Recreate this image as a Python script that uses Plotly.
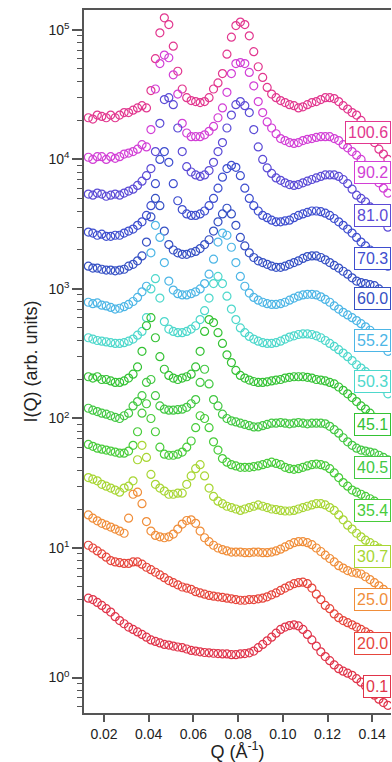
import plotly.graph_objects as go

# Q grid (A^-1)
q = [0.013, 0.015, 0.017, 0.019, 0.021, 0.023, 0.025, 0.027, 0.029, 0.031,
     0.033, 0.035, 0.037, 0.039, 0.041, 0.043, 0.045, 0.047, 0.049, 0.051,
     0.053, 0.055, 0.057, 0.059, 0.061, 0.063, 0.065, 0.067, 0.069, 0.071,
     0.073, 0.075, 0.077, 0.079, 0.081, 0.083, 0.085, 0.087, 0.089, 0.091,
     0.093, 0.095, 0.097, 0.099, 0.101, 0.103, 0.105, 0.107, 0.109, 0.111,
     0.113, 0.115, 0.117, 0.119, 0.121, 0.123, 0.125, 0.127, 0.129, 0.131,
     0.133, 0.135, 0.137, 0.139, 0.141, 0.143, 0.145, 0.147]

labels = ["100.6", "90.2", "81.0", "70.3", "60.0", "55.2", "50.3",
          "45.1", "40.5", "35.4", "30.7", "25.0", "20.0", "0.1"]

i_100_6 = [21000, 20500, 22000, 21500, 21000, 22000, 21000, 22000, 23000, 23000,
           24000, 25000, 26000, 25000, 34000, 60000, 95000, 124000, 110000, 75000,
           48000, 35000, 30000, 28500, 28000, 27500, 28000, 30000, 35000, 39000,
           46000, 65000, 88000, 108000, 115000, 110000, 90000, 68000, 52000, 43000,
           36000, 32000, 30000, 28500, 27500, 26500, 26000, 25000, 25500, 26500,
           27500, 28000, 29000, 30000, 30000, 29500, 28000, 26000, 24500, 23000,
           22000, 20000, 18000, 15500, 13500, 12000, 11000, 10000]
i_90_2 = [10400, 10000, 10500, 10500, 10000, 10500, 10200, 10500, 11000, 11200,
          11500, 12000, 13000, 12500, 17000, 35000, 55000, 64000, 61000, 45000,
          32000, 19000, 16000, 15000, 15000, 15000, 15500, 16500, 18000, 21000,
          25000, 33000, 46000, 55000, 56000, 55000, 47000, 37000, 28000, 23000,
          19500, 17500, 15800, 14500, 14000, 13500, 13300, 13500, 14000, 14300,
          14500, 14800, 15000, 15000, 15000, 14500, 14000, 13000, 12300, 11500,
          10800, 10000, 9000, 8000, 7200, 6600, 6000, 5500]
i_81_0 = [5400, 5300, 5500, 5400, 5200, 5300, 5400, 5300, 5500, 5700,
          5900, 6300, 6800, 7500, 8500, 11500, 19000, 29000, 30000, 26500,
          17500, 11500, 8800, 8000, 7600, 7400, 7600, 8200, 9500, 11500,
          13500, 17500, 22000, 26500, 28000, 26000, 23000, 17000, 12500, 10000,
          8600, 7800, 7200, 6900, 6600, 6400, 6300, 6400, 6600, 6800,
          7000, 7200, 7400, 7600, 7600, 7600, 7400, 7000, 6500, 5900,
          5300, 5000, 4700, 4300, 3900, 3600, 3300, 3000]
i_70_3 = [2750, 2700, 2600, 2650, 2550, 2550, 2600, 2600, 2700, 2800,
          2900, 3100, 3300, 3700, 4400, 6500, 10000, 11500, 9500, 6500,
          4800, 4100, 3800, 3700, 3700, 3800, 4000, 4400, 5000, 6000,
          7300, 8500, 9000, 8700, 7500, 6000, 5000, 4400, 4000, 3700,
          3550, 3400, 3300, 3300, 3350, 3400, 3550, 3700, 3800, 3900,
          4000, 4000, 3950, 3850, 3700, 3500, 3300, 3100, 2900, 2700,
          2500, 2300, 2150, 2000, 1850, 1700, 1600, 1500]
i_60_0 = [1500, 1450, 1450, 1420, 1400, 1400, 1380, 1400, 1420, 1500,
          1550, 1650, 1800, 2300, 3600, 5000, 4400, 2800, 2200, 2000,
          1900, 1850, 1850, 1900, 1950, 2050, 2200, 2400, 2800, 3300,
          3800, 4200, 3800, 3100, 2500, 2150, 1900, 1750, 1650, 1600,
          1550, 1500, 1470, 1470, 1500, 1550, 1600, 1650, 1720, 1780,
          1800, 1800, 1750, 1680, 1600, 1520, 1450, 1370, 1300, 1220,
          1150, 1120, 1100, 1080, 1060, 1000, 950, 900]
i_55_2 = [790, 770, 780, 750, 740, 720, 700, 710, 730, 760,
          800, 860, 950, 1050, 1900, 3100, 2500, 1600, 1150, 980,
          920, 900, 900, 920, 950, 1000, 1100, 1300, 1700, 2300,
          2700, 2600, 2100, 1600, 1250, 1050, 930, 860, 820, 790,
          770, 760, 760, 770, 790, 820, 850, 880, 900, 910,
          910, 900, 870, 830, 790, 740, 700, 660, 630, 600,
          570, 540, 510, 480, 450, 410, 370, 330]
i_50_3 = [420, 410, 400, 395, 390, 385, 380, 380, 385, 395,
          410, 440, 470, 600, 1000, 1200, 850, 560, 490, 470,
          460, 460, 470, 490, 520, 580, 680, 850, 1100, 1250,
          1100, 880, 700, 580, 500, 460, 430, 410, 395, 385,
          380, 380, 385, 395, 410, 425, 435, 445, 450, 450,
          445, 435, 420, 400, 380, 360, 340, 320, 300, 280,
          260, 245, 230, 215, 200, 185, 170, 155]
i_45_1 = [210, 205, 210, 200, 200, 195, 190, 190, 195, 205,
          220, 250, 330, 520, 600, 420, 300, 240, 215, 205,
          200, 205, 210, 220, 250, 330, 470, 580, 550, 460,
          380, 310, 270, 235, 215, 205, 198, 193, 190, 190,
          192, 195, 198, 200, 205, 208, 210, 210, 210, 208,
          205, 200, 198, 195, 190, 185, 175, 165, 155, 145,
          135, 125, 118, 110, 102, 95, 88, 82]
i_40_5 = [120, 116, 113, 110, 108, 105, 102, 100, 105, 110,
          125, 135, 150, 190, 200, 150, 125, 118, 116, 116,
          117, 118, 122, 130, 140, 190, 240, 185, 140, 125,
          108, 100, 96, 94, 92, 90, 88, 86, 86, 88,
          90, 92, 92, 93, 92, 91, 92, 93, 92, 91,
          92, 92, 92, 91, 87, 82, 77, 71, 66, 62,
          59, 57, 56, 55, 54, 52, 50, 48]
i_35_4 = [63, 61, 59, 58, 57, 56, 55, 54, 54, 56,
          62, 79, 110, 130, 100, 79, 60, 53, 52, 52,
          53, 55, 60, 67, 85, 105, 100, 85, 66, 57,
          49, 46, 44, 43, 42, 42, 42, 42.5, 43, 44,
          45, 46, 45, 44, 42, 41, 40.5, 41, 42, 43,
          44, 44.5, 44, 43, 41, 38, 35, 32, 30, 28,
          27, 26, 25, 24, 23, 22, 21, 20]
i_30_7 = [35, 34, 33, 31, 30, 29, 28, 27, 29, 30,
          33, 48, 62, 50, 37, 31, 29, 27.5, 26, 26,
          26.5, 26.5, 31, 36, 41, 44, 36, 29, 25, 23,
          22, 21, 20.5, 20, 19.5, 20, 20.5, 21, 21.5, 21,
          20.5, 20, 19.8, 19.5, 19.3, 19.3, 19.5, 20, 20.5, 21,
          21.5, 22, 22, 21.5, 20.5, 19.5, 18, 16.5, 15, 14,
          13, 12.2, 11.5, 11, 10.5, 10, 9.6, 9.2]
i_25_0 = [18, 17, 16.2, 15.5, 15, 14.5, 14, 13.5, 13, 17,
          26, 27, 22, 16, 13.5, 12.5, 12.2, 12, 12.2, 12.8,
          14, 15.3, 16.3, 16.5, 15.5, 13.5, 12, 11.2, 10.5, 10,
          9.7, 9.5, 9.3, 9.3, 9.3, 9.2, 9.2, 9.3, 9.3, 9.2,
          9.2, 9.3, 9.5, 9.8, 10.2, 10.6, 11, 11.2, 11.2, 11,
          10.6, 10, 9.4, 8.8, 8.3, 7.8, 7.3, 7.0, 6.7, 6.5,
          6.4, 6.3, 6.0, 5.7, 5.4, 5.1, 4.8, 4.5]
i_20_0 = [10.5, 10, 9.5, 9.0, 8.5, 8.0, 7.8, 7.7, 7.6, 7.6,
          7.8, 7.8, 7.5, 7.1, 6.8, 6.5, 6.2, 5.9, 5.6, 5.4,
          5.2, 5.0, 4.9, 4.8, 4.6, 4.5, 4.4, 4.3, 4.25, 4.2,
          4.15, 4.1, 4.05, 4.0, 3.95, 3.95, 4.0, 4.0, 4.05, 4.1,
          4.2, 4.35, 4.5, 4.7, 4.9, 5.1, 5.3, 5.4, 5.45, 5.3,
          4.9, 4.4, 4.0, 3.6, 3.4, 3.1, 2.9, 2.75, 2.65, 2.55,
          2.45, 2.35, 2.25, 2.15, 2.05, 1.95, 1.85, 1.75]
i_0_1 = [4.1, 4.0, 3.8, 3.6, 3.4, 3.2, 2.95, 2.75, 2.6, 2.45,
         2.35, 2.25, 2.15, 2.05, 1.95, 1.9, 1.85, 1.8, 1.78, 1.75,
         1.72, 1.7, 1.66, 1.62, 1.6, 1.58, 1.56, 1.55, 1.54, 1.53,
         1.52, 1.52, 1.5, 1.5, 1.52, 1.53, 1.55, 1.6, 1.7, 1.8,
         1.92, 2.05, 2.2, 2.35, 2.45, 2.52, 2.55, 2.5, 2.35, 2.15,
         1.95, 1.75, 1.58, 1.45, 1.35, 1.25, 1.17, 1.12, 1.08, 1.04,
         0.98, 0.92, 0.86, 0.79, 0.73, 0.68, 0.64, 0.61]

series = [i_100_6, i_90_2, i_81_0, i_70_3, i_60_0, i_55_2, i_50_3,
          i_45_1, i_40_5, i_35_4, i_30_7, i_25_0, i_20_0, i_0_1]

colors = ["#e2378f", "#d23fd6", "#5b4bd6", "#3e4ecf", "#3550c4", "#4db6e6", "#4ed8cc",
          "#34c234", "#43c843", "#48cc3a", "#a8d634", "#f08e3a", "#e6463c", "#e0344a"]

# label box vertical positions (log10 units on the y axis)
label_pos = [4.212, 3.896, 3.564, 3.239, 2.923, 2.606, 2.282,
             1.950, 1.618, 1.286, 0.938, 0.606, 0.266, -0.073]

font_family = "Liberation Sans, Arial, Helvetica, sans-serif"

fig = go.Figure()
for name, vals, col in zip(labels, series, colors):
    fig.add_trace(go.Scatter(
        x=q, y=vals, mode="markers", name=name, showlegend=False,
        marker=dict(symbol="circle-open", size=8, color=col,
                    line=dict(width=1.2, color=col)),
    ))

for name, ly, col in zip(labels, label_pos, colors):
    fig.add_annotation(
        x=1, xref="paper", xanchor="right", y=ly, yref="y", yanchor="middle",
        text=name, showarrow=False,
        font=dict(size=16, color=col, family=font_family),
        bgcolor="white", bordercolor=col, borderwidth=1, borderpad=2,
    )

ytick_vals = [1, 10, 100, 1000, 10000, 100000]
ytick_text = ["10<sup>0</sup>", "10<sup>1</sup>", "10<sup>2</sup>",
              "10<sup>3</sup>", "10<sup>4</sup>", "10<sup>5</sup>"]
minor_vals = [m * 10 ** e for e in range(-1, 6) for m in range(2, 10)]
xtick_vals = [0.02, 0.04, 0.06, 0.08, 0.10, 0.12, 0.14]
xtick_text = ["0.02", "0.04", "0.06", "0.08", "0.10", "0.12", "0.14"]

fig.update_layout(
    width=392, height=762,
    margin=dict(l=84, r=1, t=10, b=49),
    paper_bgcolor="white", plot_bgcolor="white",
    font=dict(family=font_family, color="#222", size=14),
    xaxis=dict(
        range=[0.01105, 0.1484], showline=True, linecolor="#555", linewidth=1.5,
        mirror=True, ticks="outside", ticklen=7, tickwidth=1.5, tickcolor="#555",
        tickvals=xtick_vals, ticktext=xtick_text, showgrid=False, zeroline=False,
        tickfont=dict(size=14),
        title=dict(text="Q (Å<sup>-1</sup>)", font=dict(size=18), standoff=2),
        automargin=False,
    ),
    yaxis=dict(
        type="log", range=[-0.274, 5.154], showline=True, linecolor="#555",
        linewidth=1.5, ticks="outside", ticklen=10, tickwidth=1.5, tickcolor="#555",
        tickvals=ytick_vals, ticktext=ytick_text, showgrid=False, zeroline=False,
        tickfont=dict(size=14),
        minor=dict(tickvals=minor_vals, ticks="outside", ticklen=5, tickwidth=1.2,
                   tickcolor="#555", showgrid=False),
        title=dict(text="I(Q) (arb. units)", font=dict(size=18), standoff=6),
        automargin=False,
    ),
)

fig.write_html(
    "out.html",
    config={"displayModeBar": False},
    post_script="document.body.style.margin='0';document.body.style.overflow='hidden';",
)
